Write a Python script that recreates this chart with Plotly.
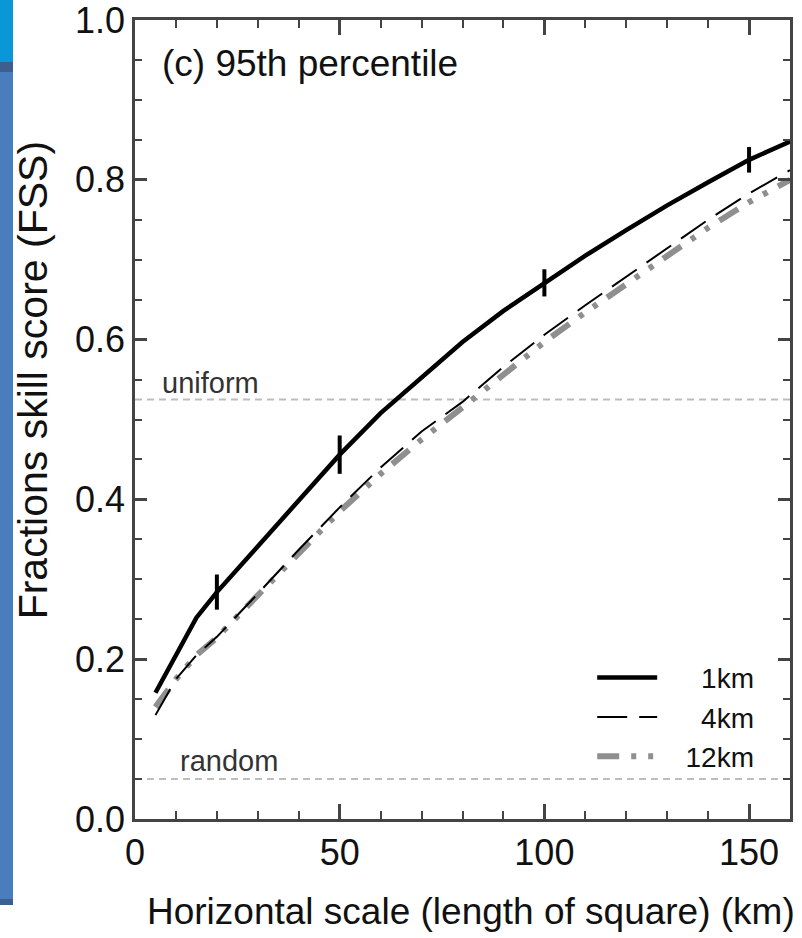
import plotly.graph_objects as go

# ---- data ----
scale_km = [5, 10, 15, 20, 30, 40, 50, 60, 70, 80, 90, 100, 110, 120, 130, 140, 150, 160]
fss_1km = [0.158, 0.205, 0.252, 0.284, 0.342, 0.400, 0.456, 0.508, 0.553, 0.597, 0.636, 0.671,
           0.705, 0.737, 0.768, 0.797, 0.825, 0.848]
fss_4km = [0.130, 0.175, 0.205, 0.228, 0.282, 0.337, 0.390, 0.440, 0.485, 0.522, 0.566, 0.606,
           0.643, 0.679, 0.715, 0.750, 0.783, 0.812]
fss_12km = [0.140, 0.175, 0.205, 0.227, 0.280, 0.333, 0.385, 0.432, 0.475, 0.515, 0.556, 0.597,
            0.634, 0.669, 0.705, 0.740, 0.772, 0.800]

err_x = [20, 50, 100, 150]
err_y = [0.284, 0.456, 0.671, 0.825]
err_half = [0.022, 0.024, 0.017, 0.016]

fss_uniform = 0.525
fss_random = 0.05

x_ticks = [0, 50, 100, 150]
y_ticks = [0.0, 0.2, 0.4, 0.6, 0.8, 1.0]
y_tick_text = ["0.0", "0.2", "0.4", "0.6", "0.8", "1.0"]

FONT = "Liberation Sans, Arial, Helvetica, sans-serif"
AXC = "#444444"

fig = go.Figure()

# reference lines
for yv in (fss_uniform, fss_random):
    fig.add_trace(go.Scatter(x=[0, 160], y=[yv, yv], mode="lines",
                             line=dict(color="#bdbdbd", width=2, dash="7px,5px"),
                             showlegend=False, hoverinfo="skip"))

fig.add_trace(go.Scatter(x=scale_km, y=fss_12km, mode="lines", name="\u00a0\u00a0\u00a012km",
                         line=dict(color="#8f8f8f", width=6, dash="22px,12px,5px,12px,5px,12px")))
fig.add_trace(go.Scatter(x=scale_km, y=fss_4km, mode="lines", name="\u00a0\u00a0\u00a0\u00a0\u00a04km",
                         line=dict(color="black", width=2, dash="30px,12px")))
fig.add_trace(go.Scatter(x=scale_km, y=fss_1km, mode="lines", name="\u00a0\u00a0\u00a0\u00a0\u00a01km",
                         line=dict(color="black", width=4.5)))
fig.add_trace(go.Scatter(x=err_x, y=err_y, mode="markers", marker=dict(size=1, color="black", opacity=0),
                         error_y=dict(type="data", array=err_half, color="black", thickness=4, width=0),
                         showlegend=False, hoverinfo="skip"))

common = dict(showgrid=False, zeroline=False, showline=True, linecolor=AXC, linewidth=2.5,
              mirror="allticks", ticks="inside", tickcolor=AXC, tickwidth=2.5,
              automargin=False, ticklabeloverflow="allow",
              tickfont=dict(family=FONT, size=36, color="#111"))

fig.update_xaxes(range=[0, 160], tickvals=x_ticks, ticklen=15,
                 minor=dict(dtick=10, ticks="inside", ticklen=8, tickcolor=AXC, tickwidth=2), **common)
fig.update_yaxes(range=[0, 1], tickvals=y_ticks, ticktext=y_tick_text, ticklen=12,
                 minor=dict(dtick=0.05, ticks="inside", ticklen=7, tickcolor=AXC, tickwidth=2), **common)

annos = [
    dict(text="(c) 95th percentile", x=0.038, y=0.946, xref="paper", yref="paper",
         xanchor="left", yanchor="middle", showarrow=False, font=dict(family=FONT, size=37, color="#111")),
    dict(text="uniform", x=6.2, y=0.546, xref="x", yref="y", xanchor="left", yanchor="middle",
         showarrow=False, font=dict(family=FONT, size=29, color="#333")),
    dict(text="random", x=10.6, y=0.072, xref="x", yref="y", xanchor="left", yanchor="middle",
         showarrow=False, font=dict(family=FONT, size=29, color="#333")),
    dict(text="Horizontal scale (length of square) (km)", x=0.0153, y=-0.116, xref="paper", yref="paper",
         xanchor="left", yanchor="middle", showarrow=False, font=dict(family=FONT, size=37, color="#111")),
    dict(text="Fractions skill score (FSS)", x=-0.1557, y=0.549, xref="paper", yref="paper",
         xanchor="center", yanchor="middle", textangle=-90, showarrow=False,
         font=dict(family=FONT, size=41, color="#111")),
]

# slide-edge artifact on the left (decorative)
W, H = 655.0, 799.0
def px_x(p):
    return (p - 135) / W
def px_y(p):
    return (819 - p) / H
shapes = [
    dict(type="rect", xref="paper", yref="paper", x0=px_x(0), x1=px_x(13), y0=px_y(905), y1=px_y(72),
         fillcolor="#4a7dbd", line=dict(width=0), layer="below"),
    dict(type="rect", xref="paper", yref="paper", x0=px_x(0), x1=px_x(13), y0=px_y(905), y1=px_y(899),
         fillcolor="#3b5f90", line=dict(width=0), layer="below"),
    dict(type="rect", xref="paper", yref="paper", x0=px_x(0), x1=px_x(13), y0=px_y(72), y1=px_y(62),
         fillcolor="#3d5f8f", line=dict(width=0), layer="below"),
    dict(type="rect", xref="paper", yref="paper", x0=px_x(0), x1=px_x(13), y0=px_y(62), y1=px_y(0),
         fillcolor="#0a97d7", line=dict(width=0), layer="below"),
]

fig.update_layout(
    width=802, height=938, autosize=False,
    margin=dict(l=135, r=12, t=20, b=119),
    paper_bgcolor="white", plot_bgcolor="white",
    font=dict(family=FONT, color="#111"),
    annotations=annos, shapes=shapes,
    legend=dict(x=0.698, y=0.208, xanchor="left", yanchor="top", bgcolor="rgba(0,0,0,0)",
                font=dict(family=FONT, size=28, color="#111"), traceorder="reversed",
                itemwidth=60, tracegroupgap=0),
)

fig.write_html("out.html", config={"displayModeBar": False},
               post_script="document.body.style.margin='0';document.body.style.overflow='hidden';")
